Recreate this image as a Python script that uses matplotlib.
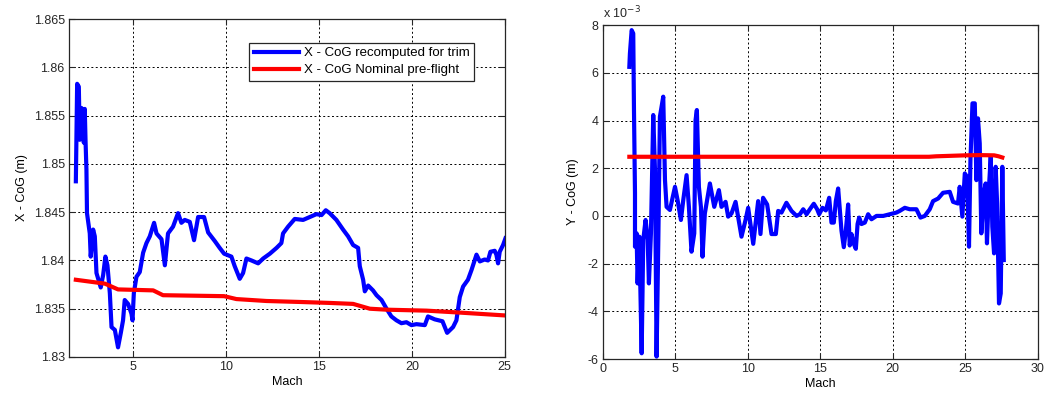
import matplotlib
matplotlib.use("Agg")
import matplotlib.pyplot as plt
from matplotlib.ticker import FormatStrFormatter, MultipleLocator

plt.rcParams['font.family'] = ['Liberation Sans', 'DejaVu Sans']
plt.rcParams['font.size'] = 9

# ---- X centre of gravity vs Mach ----
mach_x_trim = [1.92, 1.99, 2.08, 2.13, 2.22, 2.35, 2.40, 2.44, 2.49, 2.52, 2.67, 2.72,
               2.85, 2.94, 3.03, 3.26, 3.39, 3.51, 3.62, 3.75, 3.84, 4.02, 4.19, 4.34,
               4.46, 4.55, 4.73, 4.91, 4.97, 5.04, 5.18, 5.36, 5.54, 5.72, 5.90, 6.13,
               6.26, 6.53, 6.71, 6.88, 7.15, 7.42, 7.60, 7.78, 8.05, 8.28, 8.50, 8.82,
               9.04, 9.40, 9.66, 9.90, 10.29, 10.47, 10.74, 10.92, 11.10, 11.37, 11.73,
               12.00, 12.36, 12.72, 12.98, 13.07, 13.34, 13.70, 14.15, 14.51, 14.87,
               15.14, 15.37, 15.58, 15.94, 16.30, 16.57, 16.84, 17.11, 17.20, 17.38,
               17.47, 17.65, 17.91, 18.10, 18.37, 18.64, 18.90, 19.17, 19.44, 19.71,
               19.98, 20.25, 20.70, 20.87, 21.23, 21.65, 21.90, 22.22, 22.40, 22.58,
               22.76, 23.02, 23.21, 23.48, 23.66, 23.92, 24.10, 24.23, 24.46, 24.55,
               24.64, 24.73, 24.91, 25.04]
x_cog_trim = [1.8482, 1.8583, 1.8580, 1.8525, 1.8558, 1.8522, 1.8557, 1.8525, 1.8494,
              1.8449, 1.8428, 1.8404, 1.8432, 1.8425, 1.8387, 1.8372, 1.8385, 1.8404,
              1.8395, 1.8366, 1.8331, 1.8328, 1.8310, 1.8325, 1.8338, 1.8359, 1.8355,
              1.8345, 1.8338, 1.8366, 1.8383, 1.8388, 1.8408, 1.8418, 1.8425, 1.8439,
              1.8428, 1.8422, 1.8395, 1.8428, 1.8435, 1.8449, 1.8439, 1.8442, 1.8440,
              1.8421, 1.8445, 1.8445, 1.8429, 1.8420, 1.8413, 1.8407, 1.8404, 1.8394,
              1.8381, 1.8387, 1.8402, 1.8400, 1.8397, 1.8402, 1.8407, 1.8413, 1.8418,
              1.8428, 1.8435, 1.8443, 1.8442, 1.8445, 1.8448, 1.8447, 1.8452, 1.8449,
              1.8442, 1.8432, 1.8425, 1.8416, 1.8413, 1.8394, 1.8380, 1.8368, 1.8374,
              1.8369, 1.8364, 1.8359, 1.8350, 1.8342, 1.8338, 1.8335, 1.8336, 1.8333,
              1.8334, 1.8333, 1.8342, 1.8339, 1.8337, 1.8325, 1.8331, 1.8338, 1.8362,
              1.8373, 1.8380, 1.8390, 1.8406, 1.8399, 1.8401, 1.8400, 1.8409, 1.8410,
              1.8406, 1.8397, 1.8409, 1.8416, 1.8423]

mach_x_nom = [1.92, 3.48, 4.19, 6.08, 6.61, 9.90, 10.56, 12.18, 13.97, 15.58, 16.84,
              17.20, 17.74, 18.64, 20.79, 22.58, 25.04]
x_cog_nom = [1.8380, 1.8376, 1.8370, 1.8369, 1.8364, 1.8363, 1.8360, 1.8358, 1.8357,
             1.8356, 1.8355, 1.8353, 1.8350, 1.8349, 1.8348, 1.8346, 1.8343]

# ---- Y centre of gravity vs Mach (units of 1e-3 m) ----
mach_y_trim = [1.82, 1.86, 1.98, 2.09, 2.14, 2.21, 2.21, 2.32, 2.39, 2.51, 2.67, 2.78,
               2.94, 3.08, 3.17, 3.31, 3.47, 3.59, 3.70, 3.82, 3.93, 4.16, 4.28, 4.39,
               4.62, 4.97, 5.15, 5.38, 5.54, 5.77, 5.93, 6.11, 6.30, 6.39, 6.48, 6.62,
               6.76, 6.87, 7.03, 7.38, 7.68, 8.00, 8.18, 8.46, 8.64, 8.87, 9.15, 9.56,
               9.84, 10.02, 10.37, 10.71, 10.87, 11.05, 11.33, 11.63, 11.93, 12.09,
               12.32, 12.66, 13.01, 13.36, 13.59, 13.82, 14.05, 14.28, 14.55, 14.78,
               14.92, 15.15, 15.38, 15.61, 15.77, 15.93, 16.07, 16.23, 16.46, 16.62,
               16.76, 16.92, 17.03, 17.15, 17.31, 17.45, 17.57, 17.68, 17.84, 18.07,
               18.30, 18.53, 18.88, 19.34, 19.79, 20.25, 20.48, 20.83, 21.17, 21.63,
               21.91, 22.21, 22.55, 22.78, 23.13, 23.47, 23.93, 24.16, 24.50, 24.62,
               24.80, 24.97, 25.13, 25.26, 25.36, 25.50, 25.66, 25.77, 25.88, 26.00,
               26.11, 26.28, 26.41, 26.50, 26.64, 26.76, 26.87, 26.99, 27.10, 27.20,
               27.33, 27.45, 27.56, 27.66]
y_cog_trim = [6.25, 6.81, 7.79, 7.65, 4.44, 0.95, -1.29, -0.73, -2.83, -0.87, -5.76,
              -1.01, -0.17, -0.87, -2.83, -0.73, 4.23, 1.92, -5.90, -1.01, 4.16, 5.00,
              1.50, 0.38, 0.25, 1.22, 0.66, -0.17, 0.66, 1.71, 0.38, -1.50, -0.73, 4.02,
              4.44, 1.22, 0.38, -1.71, 0.10, 1.36, 0.38, 1.08, 0.38, 0.59, -0.03, 0.10,
              0.59, -0.87, -0.17, 0.34, -1.17, 0.62, -0.76, 0.76, 0.48, -0.76, -0.76,
              0.21, 0.14, 0.55, 0.21, 0.00, 0.07, 0.28, 0.07, 0.28, 0.51, 0.28, 0.07,
              0.34, 0.23, 0.76, -0.28, -0.28, 0.62, 1.15, -0.62, -1.31, -0.62, 0.48,
              -1.24, -0.76, -1.17, -1.38, -0.34, -0.07, -0.34, -0.28, 0.07, -0.14, 0.00,
              0.00, 0.07, 0.14, 0.21, 0.34, 0.28, 0.28, -0.07, 0.00, 0.28, 0.62, 0.73,
              0.97, 1.01, 0.59, 0.52, 1.22, -0.03, 1.78, 1.64, -1.29, 2.34, 4.72, 4.72,
              1.50, 4.09, 3.04, -0.73, 0.95, 1.36, -1.15, 1.22, 2.48, -0.45, -1.57,
              2.06, 0.52, -3.67, -3.25, 2.06, -1.85]

mach_y_nom = [1.82, 22.5, 23.0, 24.0, 25.0, 26.0, 27.0, 27.3, 27.56]
y_cog_nom = [2.48, 2.48, 2.50, 2.52, 2.54, 2.55, 2.54, 2.50, 2.45]

BLUE = '#0000ff'
RED = '#ff0000'
LW = 3.0

fig = plt.figure(figsize=(10.45, 3.97), dpi=100)
ax1 = fig.add_axes([0.066, 0.1008, 0.417, 0.851])
ax2 = fig.add_axes([0.577, 0.0957, 0.416, 0.841])


def style_axes(ax):
    ax.grid(True, color='black', linestyle=(0, (2, 2.5)), linewidth=0.7)
    ax.set_axisbelow(True)
    ax.tick_params(direction='in', top=True, right=True, length=4,
                   width=0.8, colors='#262626', labelsize=9, pad=3)
    for s in ax.spines.values():
        s.set_color('#262626')
        s.set_linewidth(0.9)


ax1.plot(mach_x_trim, x_cog_trim, color=BLUE, lw=LW, solid_joinstyle='round',
         label='X - CoG recomputed for trim')
ax1.plot(mach_x_nom, x_cog_nom, color=RED, lw=LW, solid_joinstyle='round',
         label='X - CoG Nominal pre-flight')
ax1.set_xlim(1.55, 25)
ax1.set_ylim(1.83, 1.865)
ax1.xaxis.set_major_locator(MultipleLocator(5))
ax1.yaxis.set_major_locator(MultipleLocator(0.005))
ax1.yaxis.set_major_formatter(FormatStrFormatter('%g'))
ax1.set_xlabel('Mach', labelpad=2)
ax1.set_ylabel('X - CoG (m)', labelpad=4)
style_axes(ax1)
leg = ax1.legend(loc='upper right', bbox_to_anchor=(0.945, 0.950), fancybox=False,
                 edgecolor='#262626', framealpha=1, handlelength=3.4,
                 borderpad=0.35, labelspacing=0.35, handletextpad=0.4, fontsize=9.5)
leg.get_frame().set_linewidth(0.9)

ax2.plot(mach_y_trim, y_cog_trim, color=BLUE, lw=LW, solid_joinstyle='round')
ax2.plot(mach_y_nom, y_cog_nom, color=RED, lw=LW, solid_joinstyle='round')
ax2.set_xlim(0, 30)
ax2.set_ylim(-6, 8)
ax2.xaxis.set_major_locator(MultipleLocator(5))
ax2.yaxis.set_major_locator(MultipleLocator(2))
ax2.yaxis.set_major_formatter(FormatStrFormatter('%g'))
ax2.set_xlabel('Mach', labelpad=2)
ax2.set_ylabel('Y - CoG (m)', labelpad=6)
style_axes(ax2)
ax2.text(0.0, 1.012, r'x 10$^{-3}$', transform=ax2.transAxes, fontsize=9,
         ha='left', va='bottom', color='#262626')

fig.savefig('out.png', dpi=100, facecolor='white')
